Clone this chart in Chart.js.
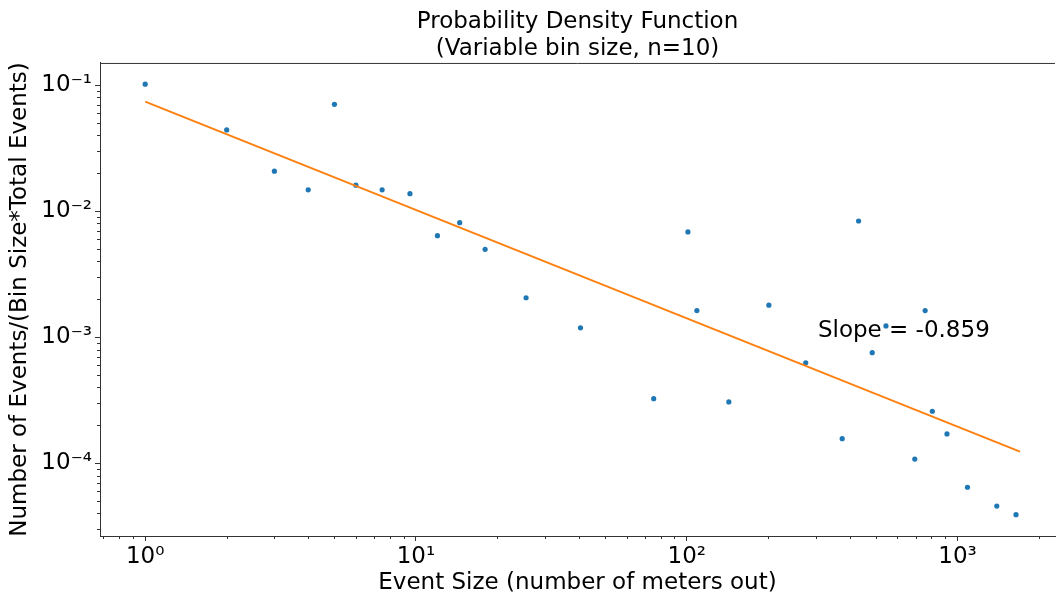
<!DOCTYPE html>
<html>
<head>
<meta charset="utf-8">
<script src="https://cdn.jsdelivr.net/npm/chart.js@4.4.0/dist/chart.umd.min.js"></script>
<style>
  html, body { margin: 0; padding: 0; background: #fff; }
  #wrap { width: 1059px; height: 596px; }
</style>
</head>
<body>
<div id="wrap"><canvas id="pdfChart" width="1059" height="596"></canvas></div>
<script>
// values
var eventSize = [1, 2, 3, 4, 5, 6, 7.5, 9.5, 12, 14.5, 18, 25.5, 40.5, 75.5, 101, 109, 143, 201, 275, 375, 431, 484, 544, 695, 759, 807, 914, 1088, 1396, 1644];
var density = [0.102, 0.0442, 0.0208, 0.0148, 0.0706, 0.0161, 0.0148, 0.0138, 0.0064, 0.00812, 0.00499, 0.00206, 0.00119, 0.000326, 0.00686, 0.00163, 0.000307, 0.0018, 0.000628, 0.000157, 0.00837, 0.000755, 0.00123, 0.000108, 0.00163, 0.000259, 0.000171, 0.0000646, 0.0000458, 0.0000391];

// fitted power law (endpoints)
var fitX = [1, 1700];
var fitY = [0.0741, 0.000124];

var xTicks = [1, 10, 100, 1000];
var xTickLabels = ['10⁰', '10¹', '10²', '10³'];
var yTicks = [0.1, 0.01, 0.001, 0.0001];
var yTickLabels = ['10⁻¹', '10⁻²', '10⁻³', '10⁻⁴'];

var slopeText = 'Slope = -0.859';
var slopeAt = [305, 0.001];

var FONT = '"DejaVu Sans", sans-serif';
var AXIS = '#333';

function toPoints(xs, ys) {
	return xs.map(function(x, i){ return {x: x, y: ys[i]}; });
}

// 2..9 in every decade, inside the range
function minorTicks(min, max) {
	var out = [];
	for (var e = Math.floor(Math.log10(min)); e <= Math.ceil(Math.log10(max)); e++) {
		for (var m = 2; m <= 9; m++) {
			var v = m * Math.pow(10, e);
			if (v >= min && v <= max) out.push(v);
		}
	}
	return out;
}

var frame = {
	id: 'frame',
	afterDraw: function(chart) {
		var ctx = chart.ctx, a = chart.chartArea;
		var xs = chart.scales.x, ys = chart.scales.y;
		ctx.save();
		ctx.strokeStyle = AXIS;
		ctx.lineWidth = 1;
		ctx.beginPath();
		ctx.moveTo(a.left, a.top + 0.5);
		ctx.lineTo(a.right, a.top + 0.5);
		minorTicks(xs.min, xs.max).forEach(function(v){
			var px = Math.round(xs.getPixelForValue(v)) + 0.5;
			ctx.moveTo(px, a.bottom);
			ctx.lineTo(px, a.bottom + 3);
		});
		minorTicks(ys.min, ys.max).forEach(function(v){
			var py = Math.round(ys.getPixelForValue(v)) + 0.5;
			ctx.moveTo(a.left, py);
			ctx.lineTo(a.left - 3, py);
		});
		ctx.stroke();

		ctx.fillStyle = '#000';
		ctx.font = '23px ' + FONT;
		ctx.textAlign = 'left';
		ctx.textBaseline = 'alphabetic';
		ctx.fillText(slopeText, xs.getPixelForValue(slopeAt[0]), ys.getPixelForValue(slopeAt[1]));
		ctx.restore();
	}
};

var ctx = document.getElementById('pdfChart').getContext('2d');
var pdfChart = new Chart(ctx, {
	type: 'scatter',
	data: {
		datasets: [{
			label: 'fit',
			data: toPoints(fitX, fitY),
			showLine: true,
			pointRadius: 0,
			borderColor: '#ff7f0e',
			borderWidth: 1.8,
			fill: false
		}, {
			label: 'events',
			data: toPoints(eventSize, density),
			pointRadius: 2.6,
			pointBorderWidth: 0,
			backgroundColor: '#1f77b4',
			borderColor: '#1f77b4'
		}]
	},
	options: {
		responsive: false,
		animation: false,
		layout: { padding: 0 },
		plugins: {
			legend: { display: false },
			tooltip: { enabled: false },
			title: {
				display: true,
				fullSize: false,
				text: ['Probability Density Function', '(Variable bin size, n=10)'],
				color: '#000',
				font: { family: FONT, size: 23, weight: 'normal', lineHeight: 1.16 },
				padding: { top: 8.6, bottom: 1 }
			}
		},
		scales: {
			x: {
				type: 'logarithmic',
				position: 'bottom',
				min: 0.681,
				max: 2290,
				afterBuildTicks: function(s){ s.ticks = xTicks.map(function(v){ return {value: v}; }); },
				afterFit: function(s){ s.height = 60; },
				ticks: {
					callback: function(v, i){ return xTickLabels[i]; },
					color: '#000',
					font: { family: FONT, size: 23 },
					padding: 2,
					autoSkip: false,
					maxRotation: 0
				},
				grid: { drawOnChartArea: false, drawTicks: true, tickLength: 5, tickColor: AXIS, tickWidth: 1 },
				border: { display: true, color: AXIS, width: 1 },
				title: {
					display: true,
					text: 'Event Size (number of meters out)',
					color: '#000',
					font: { family: FONT, size: 23, lineHeight: 1 },
					padding: { top: 0, bottom: 1 }
				}
			},
			y: {
				type: 'logarithmic',
				position: 'left',
				min: 0.0000265,
				max: 0.1503,
				afterBuildTicks: function(s){ s.ticks = yTicks.map(function(v){ return {value: v}; }); },
				afterFit: function(s){ s.width = 100; },
				ticks: {
					callback: function(v, i){ return yTickLabels[i]; },
					color: '#000',
					font: { family: FONT, size: 23 },
					padding: 3,
					autoSkip: false
				},
				grid: { drawOnChartArea: false, drawTicks: true, tickLength: 5, tickColor: AXIS, tickWidth: 1 },
				border: { display: true, color: AXIS, width: 1 },
				title: {
					display: true,
					text: 'Number of Events/(Bin Size*Total Events)',
					color: '#000',
					font: { family: FONT, size: 23, lineHeight: 1.2 },
					padding: { top: 6, bottom: 0 }
				}
			}
		}
	},
	plugins: [frame]
});
</script>
</body>
</html>
